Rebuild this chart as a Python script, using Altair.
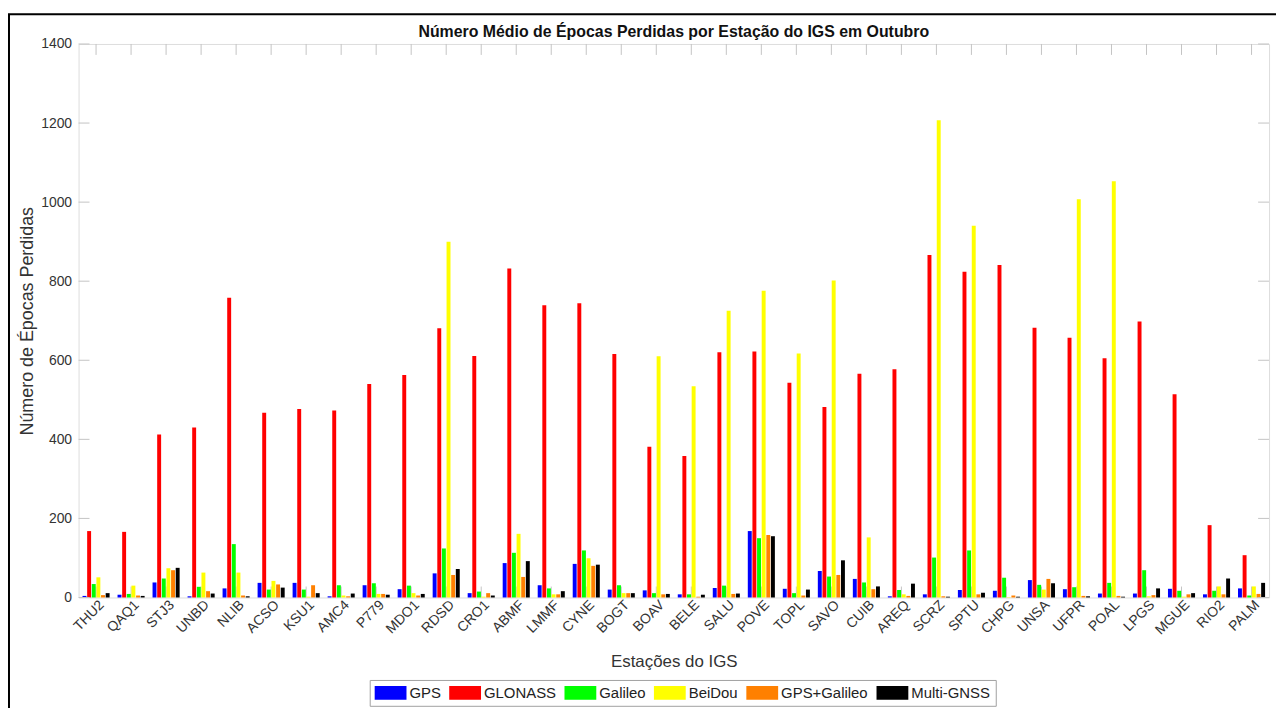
import altair as alt
import pandas as pd

stations = ["THU2", "QAQ1", "STJ3", "UNBD", "NLIB", "ACSO", "KSU1", "AMC4", "P779", "MDO1",
            "RDSD", "CRO1", "ABMF", "LMMF", "CYNE", "BOGT", "BOAV", "BELE", "SALU", "POVE",
            "TOPL", "SAVO", "CUIB", "AREQ", "SCRZ", "SPTU", "CHPG", "UNSA", "UFPR", "POAL",
            "LPGS", "MGUE", "RIO2", "PALM"]

gps = [4, 7, 38, 3, 23, 37, 37, 3, 31, 21, 61, 11, 87, 31, 85, 20, 18, 8, 24, 168,
       22, 67, 47, 3, 8, 19, 17, 44, 21, 10, 10, 22, 8, 23]
glonass = [168, 166, 412, 430, 758, 467, 477, 473, 540, 563, 681, 611, 832, 739, 744, 616, 381, 358, 620, 622,
           543, 482, 566, 577, 866, 824, 841, 682, 657, 605, 698, 514, 183, 107]
galileo = [34, 9, 48, 27, 135, 20, 20, 31, 36, 30, 124, 15, 113, 23, 119, 31, 11, 8, 30, 150,
           11, 53, 38, 19, 101, 119, 50, 32, 26, 37, 69, 17, 17, 5]
beidou = [51, 30, 74, 63, 63, 42, 2, 5, 9, 11, 900, 2, 161, 8, 99, 11, 610, 534, 725, 776,
          617, 802, 152, 8, 1207, 940, 1, 20, 1007, 1053, 3, 2, 28, 28]
gps_galileo = [6, 5, 69, 16, 5, 33, 31, 3, 9, 5, 57, 11, 52, 8, 80, 11, 8, 2, 9, 158,
               5, 57, 21, 4, 3, 8, 5, 47, 4, 4, 6, 8, 8, 9]
multi_gnss = [11, 4, 75, 10, 3, 25, 11, 10, 7, 9, 72, 5, 92, 16, 83, 11, 9, 7, 10, 155,
              20, 94, 28, 35, 2, 12, 2, 36, 3, 2, 23, 11, 48, 37]

systems = ["GPS", "GLONASS", "Galileo", "BeiDou", "GPS+Galileo", "Multi-GNSS"]
colors = ["#0000ff", "#ff0000", "#00ff00", "#ffff00", "#ff8000", "#000000"]
series = [gps, glonass, galileo, beidou, gps_galileo, multi_gnss]
y_ticks = [0, 200, 400, 600, 800, 1000, 1200, 1400]
title_text = "Número Médio de Épocas Perdidas por Estação do IGS em Outubro"

rows = []
for i, st in enumerate(stations):
    for sname, vals in zip(systems, series):
        rows.append({"station": st, "system": sname, "value": vals[i]})
df = pd.DataFrame(rows)

FONT = "Liberation Sans"
W, H = 1198, 557
TICK = 11
AX_GRAY = "#a8a8a8"
TICK_GRAY = "#c4c4c4"

x_scale = alt.Scale(domain=stations, paddingInner=0.2, paddingOuter=0.1)
y_scale = alt.Scale(domain=[0, 1400], nice=False)

bars = alt.Chart(df).mark_bar().encode(
    x=alt.X("station:N", sort=stations, scale=x_scale,
            axis=alt.Axis(title="Estações do IGS", labelAngle=-45, labelAlign="right",
                          labelBaseline="middle", labelFontSize=14, labelColor="#333333",
                          labelFont=FONT, labelPadding=5, labelOffset=6, ticks=False, tickSize=0,
                          domain=False, titleFont=FONT, titleFontSize=17, titleFontWeight="normal",
                          titleColor="#333333", titleX=W / 2, titleY=64, titleBaseline="middle")),
    xOffset=alt.XOffset("system:N", sort=systems,
                        scale=alt.Scale(domain=systems, paddingInner=0.15, paddingOuter=0.1)),
    y=alt.Y("value:Q", scale=y_scale,
            axis=alt.Axis(title="Número de Épocas Perdidas", values=y_ticks, grid=False, format="d",
                          ticks=False, tickSize=0, domain=False, labelFontSize=14,
                          labelColor="#333333", labelFont=FONT, labelPadding=7,
                          titleFont=FONT, titleFontSize=18, titleFontWeight="normal",
                          titleColor="#333333", titleX=-51, titleY=H / 2,
                          titleBaseline="middle", titleAngle=-90)),
    color=alt.Color("system:N", sort=systems,
                    scale=alt.Scale(domain=systems, range=colors),
                    legend=alt.Legend(title=None, orient="none", direction="horizontal",
                                      legendX=293, legendY=640, columns=6,
                                      symbolType="M-1,-0.875L3,-0.875L3,0.875L-1,0.875Z",
                                      symbolSize=256, symbolStrokeWidth=0,
                                      labelFont=FONT, labelFontSize=15, labelColor="#222222",
                                      labelOffset=19, columnPadding=8, padding=5,
                                      strokeColor="#a0a0a0", fillColor="white",
                                      labelLimit=200)),
)

ytick_df = pd.DataFrame({"v": y_ticks})
xtick_df = pd.DataFrame({"station": stations})

ytick_left = alt.Chart(ytick_df).mark_rule(color=TICK_GRAY, strokeWidth=1).encode(
    y=alt.Y("v:Q", scale=y_scale), x=alt.value(0), x2=alt.value(TICK))
ytick_right = alt.Chart(ytick_df).mark_rule(color=TICK_GRAY, strokeWidth=1).encode(
    y=alt.Y("v:Q", scale=y_scale), x=alt.value(W - TICK), x2=alt.value(W))
xtick_top = alt.Chart(xtick_df).mark_rule(color=TICK_GRAY, strokeWidth=1).encode(
    x=alt.X("station:N", sort=stations, scale=x_scale, bandPosition=0.5),
    y=alt.value(0), y2=alt.value(TICK))
xtick_bottom = alt.Chart(xtick_df).mark_rule(color=TICK_GRAY, strokeWidth=1).encode(
    x=alt.X("station:N", sort=stations, scale=x_scale, bandPosition=0.5),
    y=alt.value(H - TICK), y2=alt.value(H))

frame = alt.Chart(pd.DataFrame({"f": [0]})).mark_rect(
    fill=None, fillOpacity=0, stroke="#000000", strokeWidth=2, clip=False).encode(
    x=alt.value(-70), x2=alt.value(W + 20), y=alt.value(-30), y2=alt.value(H + 140))

title = alt.Chart(pd.DataFrame({"t": [title_text]})).mark_text(
    font=FONT, fontSize=16, fontWeight="bold", color="#111111",
    align="center", baseline="alphabetic", clip=False).encode(
    text="t:N", x=alt.value(W / 2), y=alt.value(-7))

chart = alt.layer(xtick_bottom, bars, ytick_left, ytick_right, xtick_top, frame, title).properties(
    width=W, height=H,
    autosize=alt.AutoSizeParams(type="none"),
    padding={"left": 71, "top": 34, "right": 7, "bottom": 109},
).configure_view(stroke=AX_GRAY, strokeWidth=1).configure(background="white")

chart.save("out.html", embed_options={"renderer": "svg", "actions": False})
